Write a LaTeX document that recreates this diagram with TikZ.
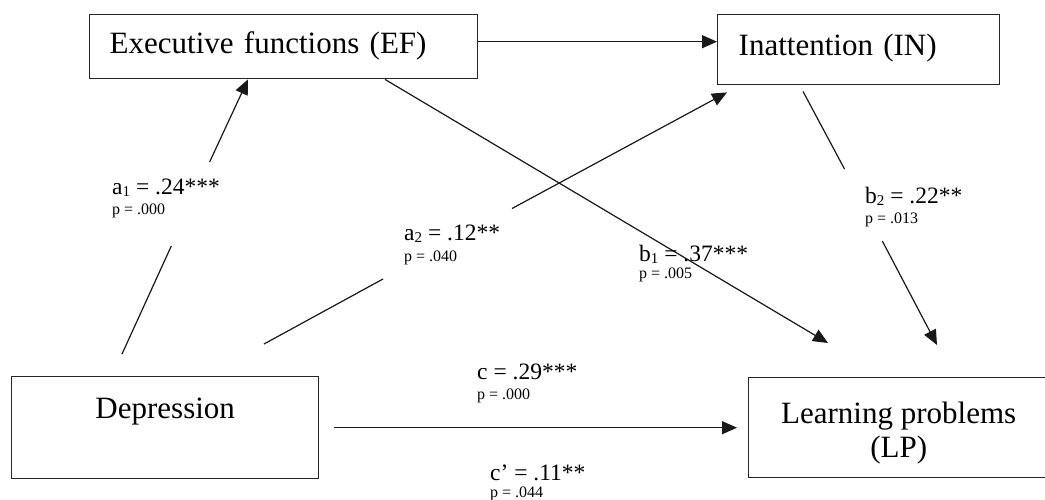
\documentclass[tikz,border=0pt]{standalone}
\usepackage{fontspec}
\setmainfont{Liberation Serif}
\usetikzlibrary{arrows.meta}
\newcommand\subd[1]{\raisebox{-2pt}{\fontsize{15}{15}\selectfont #1}}
\begin{document}
\begin{tikzpicture}[x=1pt,y=-1pt,
  box/.style={draw=black!85, line width=1.4pt, rectangle, anchor=north west,
    inner ysep=0pt, font=\fontsize{31}{34}\selectfont},
  conn/.style={line width=1.2pt, draw=black!90},
  arr/.style={conn, -{Triangle[length=15pt,width=13pt]}},
  coef/.style={anchor=base west, inner sep=0pt, font=\fontsize{23.5}{26}\selectfont},
  pval/.style={anchor=base west, inner sep=0pt, font=\fontsize{16}{18}\selectfont}]
\useasboundingbox (0,0) rectangle (1045,499);
\fill[white] (0,0) rectangle (1045,499);

% boxes
\node[box, inner xsep=20pt, text width=348pt, align=left, minimum height=64pt,
  text height=22pt, text depth=8pt] (EF) at (89,14) {Executive functions (EF)};
\node[box, inner xsep=21pt, text width=240pt, align=left, minimum height=70pt,
  text height=22pt, text depth=10pt] (IN) at (717,14) {Inattention (IN)};
\node[box, inner xsep=0pt, minimum width=307pt, minimum height=102pt,
  text height=22pt, text depth=40pt] (Dep) at (11,376) {Depression};
\node[box, inner xsep=0pt, minimum width=300pt, minimum height=100pt, align=center,
  text height=64pt, text depth=4pt] (LP) at (748,377) {Learning problems\\(LP)};

% free / gap coordinates
\coordinate (a1m) at (171.3,246);
\coordinate (a1n) at (209.6,162);
\coordinate (a2m) at (383,279);
\coordinate (a2n) at (512,208.5);
\coordinate (b2m) at (844.5,169);
\coordinate (b2n) at (882.3,241);

% connectors
\draw[arr] ([yshift=5pt]EF.east) -- ([yshift=8pt]IN.west);
\draw[conn] ([xshift=111pt,yshift=22pt]Dep.north west) -- (a1m);
\draw[arr] (a1n) -- ([xshift=159pt]EF.south west);
\draw[conn] ([xshift=253pt,yshift=32pt]Dep.north west) -- (a2m);
\draw[arr] (a2n) -- ([xshift=10pt,yshift=-7pt]IN.south west);
\draw[arr] ([xshift=296pt]EF.south west) -- ([xshift=80pt,yshift=34pt]LP.north west);
\draw[conn] ([xshift=86pt,yshift=-6pt]IN.south west) -- (b2m);
\draw[arr] (b2n) -- ([xshift=189pt,yshift=32pt]LP.north west);
\draw[arr] ([xshift=15pt]Dep.east) -- ([xshift=-11pt]LP.west);

% labels
\node[coef] (ca1) at (112,194) {a\subd{1} = .24***};
\node[pval] (pa1) at (112,214) {p = .000};
\node[coef] (ca2) at (404,240) {a\subd{2} = .12**};
\node[pval] (pa2) at (404,261) {p = .040};
\node[coef] (cb1) at (639,261) {b\subd{1} = .37***};
\node[pval] (pb1) at (639,278) {p = .005};
\node[coef] (cb2) at (865,203) {b\subd{2} = .22**};
\node[pval] (pb2) at (865,223) {p = .013};
\node[coef] (cc) at (477,379) {c = .29***};
\node[pval] (pc) at (477,399) {p = .000};
\node[coef] (ccp) at (490,480) {c\textquoteright{} = .11**};
\node[pval] (pcp) at (490,497) {p = .044};
\end{tikzpicture}
\end{document}
